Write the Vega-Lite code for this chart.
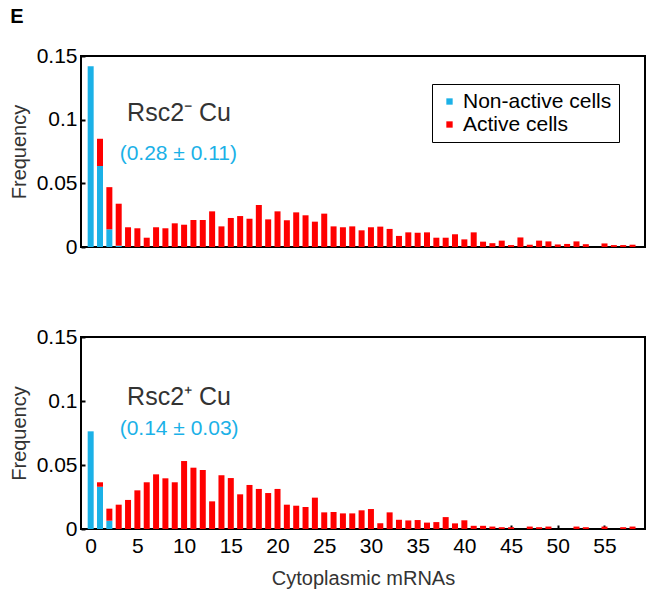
{
  "$schema": "https://vega.github.io/schema/vega-lite/v6.json",
  "background": "white",
  "padding": {"left": 8, "top": 7, "right": 6, "bottom": 6},
  "title": {"text": "E", "anchor": "start", "fontWeight": "bold", "fontSize": 20, "font": "Liberation Sans", "color": "black", "offset": 17, "frame": "bounds", "dx": 2},
  "config": {
    "font": "Liberation Sans",
    "view": {"stroke": "black", "strokeWidth": 2},
    "axis": {"labelFont": "Liberation Sans", "labelFontSize": 21, "labelColor": "black", "titleFont": "Liberation Sans", "titleFontSize": 20, "titleColor": "#333333", "titleFontWeight": "normal", "grid": false, "domain": false, "tickColor": "black", "tickSize": -4, "tickWidth": 2},
    "legend": {"labelFont": "Liberation Sans", "labelFontSize": 21, "labelColor": "black"}
  },
  "datasets": {
    "top": [
      {"x": 0, "t": "Non-active cells", "f": 0.142},
      {"x": 1, "t": "Non-active cells", "f": 0.0636},
      {"x": 2, "t": "Non-active cells", "f": 0.0139},
      {"x": 3, "t": "Non-active cells", "f": 0.001},
      {"x": 1, "t": "Active cells", "f": 0.0214},
      {"x": 2, "t": "Active cells", "f": 0.0331},
      {"x": 3, "t": "Active cells", "f": 0.033},
      {"x": 4, "t": "Active cells", "f": 0.0155},
      {"x": 5, "t": "Active cells", "f": 0.0147},
      {"x": 6, "t": "Active cells", "f": 0.0073},
      {"x": 7, "t": "Active cells", "f": 0.0155},
      {"x": 8, "t": "Active cells", "f": 0.0147},
      {"x": 9, "t": "Active cells", "f": 0.0186},
      {"x": 10, "t": "Active cells", "f": 0.0175},
      {"x": 11, "t": "Active cells", "f": 0.0212},
      {"x": 12, "t": "Active cells", "f": 0.0212},
      {"x": 13, "t": "Active cells", "f": 0.028},
      {"x": 14, "t": "Active cells", "f": 0.0162},
      {"x": 15, "t": "Active cells", "f": 0.0228},
      {"x": 16, "t": "Active cells", "f": 0.0243},
      {"x": 17, "t": "Active cells", "f": 0.0222},
      {"x": 18, "t": "Active cells", "f": 0.033},
      {"x": 19, "t": "Active cells", "f": 0.0217},
      {"x": 20, "t": "Active cells", "f": 0.028},
      {"x": 21, "t": "Active cells", "f": 0.021},
      {"x": 22, "t": "Active cells", "f": 0.0272},
      {"x": 23, "t": "Active cells", "f": 0.0249},
      {"x": 24, "t": "Active cells", "f": 0.0199},
      {"x": 25, "t": "Active cells", "f": 0.0262},
      {"x": 26, "t": "Active cells", "f": 0.0162},
      {"x": 27, "t": "Active cells", "f": 0.0155},
      {"x": 28, "t": "Active cells", "f": 0.0162},
      {"x": 29, "t": "Active cells", "f": 0.0131},
      {"x": 30, "t": "Active cells", "f": 0.0155},
      {"x": 31, "t": "Active cells", "f": 0.016},
      {"x": 32, "t": "Active cells", "f": 0.0142},
      {"x": 33, "t": "Active cells", "f": 0.0087},
      {"x": 34, "t": "Active cells", "f": 0.0115},
      {"x": 35, "t": "Active cells", "f": 0.0112},
      {"x": 36, "t": "Active cells", "f": 0.0115},
      {"x": 37, "t": "Active cells", "f": 0.0073},
      {"x": 38, "t": "Active cells", "f": 0.0073},
      {"x": 39, "t": "Active cells", "f": 0.01},
      {"x": 40, "t": "Active cells", "f": 0.006},
      {"x": 41, "t": "Active cells", "f": 0.0115},
      {"x": 42, "t": "Active cells", "f": 0.0042},
      {"x": 43, "t": "Active cells", "f": 0.003},
      {"x": 44, "t": "Active cells", "f": 0.005},
      {"x": 45, "t": "Active cells", "f": 0.0015},
      {"x": 46, "t": "Active cells", "f": 0.0075},
      {"x": 47, "t": "Active cells", "f": 0.0018},
      {"x": 48, "t": "Active cells", "f": 0.005},
      {"x": 49, "t": "Active cells", "f": 0.0044},
      {"x": 50, "t": "Active cells", "f": 0.002},
      {"x": 51, "t": "Active cells", "f": 0.0024},
      {"x": 52, "t": "Active cells", "f": 0.0044},
      {"x": 53, "t": "Active cells", "f": 0.0022},
      {"x": 55, "t": "Active cells", "f": 0.0028},
      {"x": 56, "t": "Active cells", "f": 0.0015},
      {"x": 57, "t": "Active cells", "f": 0.0015},
      {"x": 58, "t": "Active cells", "f": 0.0018}
    ],
    "bottom": [
      {"x": 0, "t": "Non-active cells", "f": 0.0763},
      {"x": 1, "t": "Non-active cells", "f": 0.033},
      {"x": 2, "t": "Non-active cells", "f": 0.0065},
      {"x": 1, "t": "Active cells", "f": 0.0035},
      {"x": 2, "t": "Active cells", "f": 0.0094},
      {"x": 3, "t": "Active cells", "f": 0.019},
      {"x": 4, "t": "Active cells", "f": 0.0227},
      {"x": 5, "t": "Active cells", "f": 0.0302},
      {"x": 6, "t": "Active cells", "f": 0.0365},
      {"x": 7, "t": "Active cells", "f": 0.0427},
      {"x": 8, "t": "Active cells", "f": 0.0396},
      {"x": 9, "t": "Active cells", "f": 0.0365},
      {"x": 10, "t": "Active cells", "f": 0.0531},
      {"x": 11, "t": "Active cells", "f": 0.0479},
      {"x": 12, "t": "Active cells", "f": 0.0461},
      {"x": 13, "t": "Active cells", "f": 0.0216},
      {"x": 14, "t": "Active cells", "f": 0.042},
      {"x": 15, "t": "Active cells", "f": 0.0398},
      {"x": 16, "t": "Active cells", "f": 0.0271},
      {"x": 17, "t": "Active cells", "f": 0.0344},
      {"x": 18, "t": "Active cells", "f": 0.0313},
      {"x": 19, "t": "Active cells", "f": 0.0281},
      {"x": 20, "t": "Active cells", "f": 0.0313},
      {"x": 21, "t": "Active cells", "f": 0.019},
      {"x": 22, "t": "Active cells", "f": 0.0182},
      {"x": 23, "t": "Active cells", "f": 0.0172},
      {"x": 24, "t": "Active cells", "f": 0.0245},
      {"x": 25, "t": "Active cells", "f": 0.013},
      {"x": 26, "t": "Active cells", "f": 0.0133},
      {"x": 27, "t": "Active cells", "f": 0.0122},
      {"x": 28, "t": "Active cells", "f": 0.0122},
      {"x": 29, "t": "Active cells", "f": 0.0146},
      {"x": 30, "t": "Active cells", "f": 0.0156},
      {"x": 31, "t": "Active cells", "f": 0.0045},
      {"x": 32, "t": "Active cells", "f": 0.013},
      {"x": 33, "t": "Active cells", "f": 0.0072},
      {"x": 34, "t": "Active cells", "f": 0.0067},
      {"x": 35, "t": "Active cells", "f": 0.007},
      {"x": 36, "t": "Active cells", "f": 0.005},
      {"x": 37, "t": "Active cells", "f": 0.0054},
      {"x": 38, "t": "Active cells", "f": 0.0093},
      {"x": 39, "t": "Active cells", "f": 0.0044},
      {"x": 40, "t": "Active cells", "f": 0.0068},
      {"x": 41, "t": "Active cells", "f": 0.0025},
      {"x": 42, "t": "Active cells", "f": 0.0025},
      {"x": 43, "t": "Active cells", "f": 0.0019},
      {"x": 44, "t": "Active cells", "f": 0.0014},
      {"x": 45, "t": "Active cells", "f": 0.0014},
      {"x": 47, "t": "Active cells", "f": 0.0019},
      {"x": 48, "t": "Active cells", "f": 0.0014},
      {"x": 49, "t": "Active cells", "f": 0.0019},
      {"x": 52, "t": "Active cells", "f": 0.0019},
      {"x": 53, "t": "Active cells", "f": 0.0014},
      {"x": 55, "t": "Active cells", "f": 0.0019},
      {"x": 57, "t": "Active cells", "f": 0.0014},
      {"x": 58, "t": "Active cells", "f": 0.0019}
    ]
  },
  "vconcat": [
    {
      "width": 564,
      "height": 191,
      "layer": [
        {
          "data": {"name": "top"},
          "mark": {"type": "bar", "width": 6},
          "encoding": {
            "x": {"field": "x", "type": "quantitative", "scale": {"domain": [-0.5, 58.8], "nice": false, "zero": false}, "axis": null},
            "y": {"field": "f", "type": "quantitative", "stack": "zero", "scale": {"domain": [0, 0.15], "nice": false}, "axis": {"values": [0, 0.05, 0.1, 0.15], "format": "~g", "title": "Frequency", "labelPadding": 8, "titlePadding": 7}},
            "color": {"field": "t", "type": "nominal", "scale": {"domain": ["Non-active cells", "Active cells"], "range": ["#1bb1e7", "#ff0000"]}, "legend": {"title": null, "orient": "none", "legendX": 351, "legendY": 28, "strokeColor": "black", "padding": 7, "symbolType": "square", "symbolSize": 40, "symbolStrokeWidth": 0, "labelOffset": 3, "rowPadding": 1}},
            "order": {"field": "t", "sort": "descending"}
          }
        },
        {
          "data": {"values": [{"x": 3.9, "y": 0.105, "label": "Rsc2⁻ Cu"}]},
          "mark": {"type": "text", "align": "left", "baseline": "middle", "fontSize": 25, "color": "#333333"},
          "encoding": {"x": {"field": "x", "type": "quantitative", "axis": null}, "y": {"field": "y", "type": "quantitative"}, "text": {"field": "label"}}
        },
        {
          "data": {"values": [{"x": 3.1, "y": 0.073, "label": "(0.28 ± 0.11)"}]},
          "mark": {"type": "text", "align": "left", "baseline": "middle", "fontSize": 21, "color": "#1bb1e7"},
          "encoding": {"x": {"field": "x", "type": "quantitative", "axis": null}, "y": {"field": "y", "type": "quantitative"}, "text": {"field": "label"}}
        }
      ]
    },
    {
      "width": 564,
      "height": 192,
      "layer": [
        {
          "data": {"name": "bottom"},
          "mark": {"type": "bar", "width": 6},
          "encoding": {
            "x": {"field": "x", "type": "quantitative", "scale": {"domain": [-0.5, 58.8], "nice": false, "zero": false}, "axis": {"values": [0, 5, 10, 15, 20, 25, 30, 35, 40, 45, 50, 55], "title": "Cytoplasmic mRNAs", "labelPadding": 10, "titlePadding": 12}},
            "y": {"field": "f", "type": "quantitative", "stack": "zero", "scale": {"domain": [0, 0.15], "nice": false}, "axis": {"values": [0, 0.05, 0.1, 0.15], "format": "~g", "title": "Frequency", "labelPadding": 8, "titlePadding": 7}},
            "color": {"field": "t", "type": "nominal", "scale": {"domain": ["Non-active cells", "Active cells"], "range": ["#1bb1e7", "#ff0000"]}, "legend": null},
            "order": {"field": "t", "sort": "descending"}
          }
        },
        {
          "data": {"values": [{"x": 3.9, "y": 0.103, "label": "Rsc2⁺ Cu"}]},
          "mark": {"type": "text", "align": "left", "baseline": "middle", "fontSize": 25, "color": "#333333"},
          "encoding": {"x": {"field": "x", "type": "quantitative"}, "y": {"field": "y", "type": "quantitative"}, "text": {"field": "label"}}
        },
        {
          "data": {"values": [{"x": 3.1, "y": 0.078, "label": "(0.14 ± 0.03)"}]},
          "mark": {"type": "text", "align": "left", "baseline": "middle", "fontSize": 21, "color": "#1bb1e7"},
          "encoding": {"x": {"field": "x", "type": "quantitative"}, "y": {"field": "y", "type": "quantitative"}, "text": {"field": "label"}}
        }
      ]
    }
  ],
  "spacing": 67,
  "resolve": {"legend": {"color": "independent"}}
}
